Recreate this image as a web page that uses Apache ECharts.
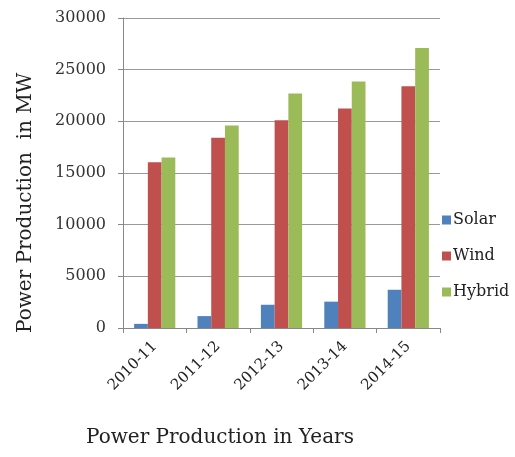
<!DOCTYPE html>
<html>
<head>
<meta charset="utf-8">
<script src="https://cdn.jsdelivr.net/npm/echarts@6/dist/echarts.min.js"></script>
<style>html,body{margin:0;padding:0;background:#fff}#c{width:515px;height:457px}</style>
</head>
<body>
<div id="c"></div>
<script>
const categories = ['2010-11', '2011-12', '2012-13', '2013-14', '2014-15'];
const solar = [400, 1150, 2250, 2550, 3700];
const wind = [16050, 18400, 20100, 21250, 23400];
const hybrid = [16500, 19600, 22700, 23850, 27100];
const seriesNames = ['Solar', 'Wind', 'Hybrid'];
const yTicks = { min: 0, max: 30000, interval: 5000 };
const xTitle = 'Power Production in Years';
const yTitle = 'Power Production  in MW';

const colors = ['#4F81BD', '#C0504D', '#9BBB59'];
const tickFont = 'DejaVu Serif';
const titleFont = 'DejaVu Serif';

const chart = echarts.init(document.getElementById('c'));
chart.setOption({
  animation: false,
  color: colors,
  grid: { left: 123, right: 75, top: 18, bottom: 129, containLabel: false },
  legend: {
    orient: 'vertical',
    left: 437,
    top: 207,
    itemWidth: 9,
    itemHeight: 9,
    itemGap: 20,
    icon: 'rect',
    textStyle: { fontFamily: tickFont, fontSize: 16, color: '#222', padding: [0, 0, 0, -3] },
    data: seriesNames
  },
  xAxis: {
    type: 'category',
    data: categories,
    axisLine: { lineStyle: { color: '#888', width: 1 } },
    axisTick: { show: true, length: 5, lineStyle: { color: '#888' } },
    axisLabel: { rotate: 45, fontFamily: tickFont, fontSize: 15, color: '#222', margin: 16 }
  },
  yAxis: {
    type: 'value',
    min: yTicks.min, max: yTicks.max, interval: yTicks.interval,
    axisLine: { show: true, lineStyle: { color: '#888' } },
    axisTick: { show: true, length: 5, lineStyle: { color: '#888' } },
    splitLine: { lineStyle: { color: '#999', width: 1 } },
    axisLabel: { fontFamily: tickFont, fontSize: 16, color: '#333', margin: 17, formatter: v => String(v) }
  },
  series: [
    { name: seriesNames[0], type: 'bar', data: solar, barGap: '0%', barCategoryGap: '35%' },
    { name: seriesNames[1], type: 'bar', data: wind, barGap: '0%', barCategoryGap: '35%' },
    { name: seriesNames[2], type: 'bar', data: hybrid, barGap: '0%', barCategoryGap: '35%' }
  ],
  graphic: [
    { type: 'text', left: 86, top: 428, style: { text: xTitle, fontFamily: titleFont, fontSize: 20, fill: '#222' } },
    { type: 'text', x: 16, y: 333, rotation: Math.PI / 2, style: { text: yTitle, fontFamily: titleFont, fontSize: 20, fill: '#222', textAlign: 'left', textVerticalAlign: 'top' } }
  ]
});
</script>
</body>
</html>
